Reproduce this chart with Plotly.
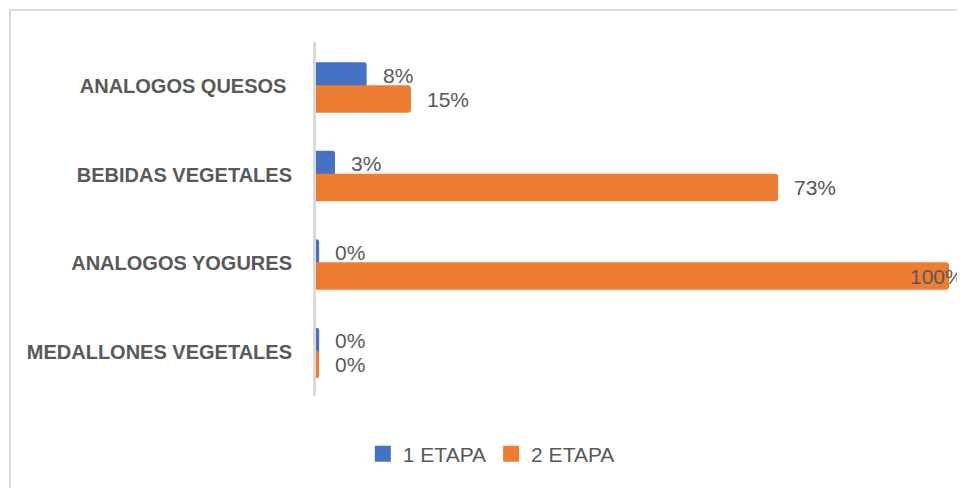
import plotly.graph_objects as go

# Data (top to bottom as shown)
categories = ["ANALOGOS QUESOS ", "BEBIDAS VEGETALES", "ANALOGOS YOGURES", "MEDALLONES VEGETALES"]
etapa1 = [8, 3, 0.5, 0.5]
etapa2 = [15, 73, 100, 0.5]
series_names = ["1 ETAPA", "2 ETAPA"]
colors = ["#4472C4", "#ED7D31"]

TXT = "#595959"
FONT = "Liberation Sans"

# page body has an 8px margin: figure is placed at (8, 8)
W, H = 957, 480
L, R, T, B = 308, 16, 34, 92
PW = W - L - R
PH = H - T - B

fig = go.Figure()
offsets = [-0.03, -0.30]
widths = [0.30, 0.31]
for name, vals, col, off, w in zip(series_names, [etapa1, etapa2], colors, offsets, widths):
    fig.add_trace(go.Bar(
        y=categories, x=vals, name=name, orientation="h",
        marker=dict(color=col, line=dict(width=0)),
        offset=off, width=w, hoverinfo="x+y", showlegend=False,
    ))
# legend entries with larger square symbols
for name, col in zip(series_names, colors):
    fig.add_trace(go.Scatter(
        x=[None], y=[None], mode="markers", name=name,
        marker=dict(symbol="square", size=16, color=col), showlegend=True,
    ))

# value labels
yshifts = [11, -13]
annotations = []
for vals, ys in zip([etapa1, etapa2], yshifts):
    for cat, v in zip(categories, vals):
        right = v >= 95
        annotations.append(dict(
            x=v, y=cat, xref="x", yref="y", text=f"{round(v - 0.01):.0f}%",
            showarrow=False, xanchor="right" if right else "left",
            xshift=17 if right else 14, yshift=ys,
            font=dict(family=FONT, size=21, color=TXT),
        ))

fig.update_layout(
    width=W, height=H,
    margin=dict(l=L, r=R, t=T, b=B),
    paper_bgcolor="white", plot_bgcolor="white",
    barmode="overlay", barcornerradius=3,
    showlegend=True,
    legend=dict(orientation="h", x=0.277, xanchor="center", y=-0.164, yanchor="middle",
                font=dict(family=FONT, size=21, color=TXT), traceorder="normal",
                itemsizing="trace", itemwidth=30, tracegroupgap=0),
    annotations=annotations,
    xaxis=dict(range=[0, 100], showgrid=False, zeroline=False, showline=False,
               showticklabels=False, ticks="", fixedrange=True),
    yaxis=dict(type="category", categoryorder="array", categoryarray=categories[::-1],
               showline=True, linecolor="#d9d9d9", linewidth=3, ticks="",
               showgrid=False, ticklabelstandoff=17,
               tickfont=dict(family=FONT, size=20, color=TXT, weight="bold")),
    shapes=[dict(type="rect", xref="paper", yref="paper",
                 x0=(2 - L) / PW, x1=1.2, y0=-0.6, y1=1 + (T - 2) / PH,
                 line=dict(color="#d9d9d9", width=2), fillcolor="rgba(0,0,0,0)", layer="below")],
    font=dict(family=FONT, color=TXT),
)

fig.write_html("out.html")
